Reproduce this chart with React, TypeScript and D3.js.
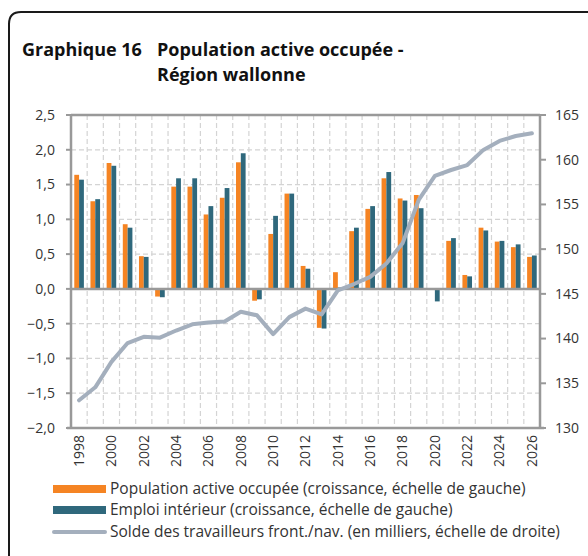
import React from "react";
import * as d3 from "d3";

const years = d3.range(1998, 2027).map(String);
const popActive = [1.64, 1.26, 1.81, 0.93, 0.47, -0.11, 1.47, 1.47, 1.07, 1.31, 1.82, -0.17, 0.79, 1.37, 0.33, -0.56, 0.24, 0.83, 1.15, 1.59, 1.30, 1.35, 0.0, 0.69, 0.20, 0.88, 0.68, 0.60, 0.46];
const emploi = [1.57, 1.29, 1.77, 0.88, 0.46, -0.12, 1.59, 1.59, 1.19, 1.45, 1.95, -0.15, 1.05, 1.37, 0.29, -0.57, 0.02, 0.88, 1.19, 1.68, 1.27, 1.16, -0.18, 0.73, 0.18, 0.84, 0.69, 0.64, 0.48];
const solde = [133.1, 134.55, 137.4, 139.5, 140.2, 140.1, 140.9, 141.6, 141.8, 141.9, 143.0, 142.6, 140.5, 142.4, 143.35, 142.7, 145.4, 146.1, 146.9, 148.4, 150.65, 155.5, 158.2, 158.85, 159.4, 161.1, 162.1, 162.65, 162.95];
const leftTicks = [2.5, 2.0, 1.5, 1.0, 0.5, 0.0, -0.5, -1.0, -1.5, -2.0];
const rightTicks = [165, 160, 155, 150, 145, 140, 135, 130];
const yearLabels = years.filter((_, i) => i % 2 === 0);
const legendItems = [
  "Population active occupée (croissance, échelle de gauche)",
  "Emploi intérieur (croissance, échelle de gauche)",
  "Solde des travailleurs front./nav. (en milliers, échelle de droite)",
];

const ORANGE = "#f58423";
const TEAL = "#2f687c";
const LINE = "#a4afbd";
const AXIS = "#999999";
const GRID = "#d4d4d4";
const TXT = "#333333";
const FONT = "'Open Sans', sans-serif";

export default function App() {
  const W = 588, H = 556;
  const left = 71, right = 540, top = 115, bottom = 428;
  const x = d3.scaleBand<string>().domain(years).range([left, right]).padding(0);
  const bw = x.bandwidth();
  const sub = d3.scaleBand<string>().domain(["pop", "emp"]).range([bw / 2 - 4.8, bw / 2 + 4.8]).padding(0);
  const yL = d3.scaleLinear().domain([-2, 2.5]).range([bottom, top]);
  const yR = d3.scaleLinear().domain([130, 165]).range([bottom, top]);
  const fmt = (v: number) => d3.format(".1f")(v).replace(".", ",");
  const line = d3.line<number>().x((_, i) => (x(years[i]) as number) + bw / 2).y((d) => yR(d));

  const bar = (v: number, key: string, i: number, color: string) => {
    const x0 = (x(years[i]) as number) + (sub(key) as number);
    const y0 = yL(Math.max(0, v));
    const h = Math.abs(yL(v) - yL(0));
    if (h < 0.01) return null;
    return <rect key={key + i} x={x0} y={y0} width={sub.bandwidth()} height={h} fill={color} />;
  };

  return (
    <svg width={W} height={H} style={{ position: "absolute", left: 0, top: 0, background: "#fff" }}>
      {/* frame */}
      <path d={`M9,${H} L9,24 Q9,12 21,12 L${W},12`} fill="none" stroke="#1a1a1a" strokeWidth={2} />
      {/* title */}
      <g fontFamily={FONT} fontWeight="bold" fontSize={18} fill="#111">
        <text x={22} y={56}>Graphique 16</text>
        <text x={157} y={56}>Population active occupée -</text>
        <text x={157} y={81}>Région wallonne</text>
      </g>
      {/* gridlines */}
      <g stroke={GRID} strokeWidth={1.2} strokeDasharray="5,3">
        {years.slice(1).map((yr) => (
          <line key={yr} x1={x(yr)} x2={x(yr)} y1={top} y2={bottom} />
        ))}
        {leftTicks.filter((t) => t !== 0 && t !== 2.5 && t !== -2).map((t) => (
          <line key={t} x1={left} x2={right} y1={yL(t)} y2={yL(t)} />
        ))}
      </g>
      {/* bars */}
      <g>
        {popActive.map((v, i) => bar(v, "pop", i, ORANGE))}
        {emploi.map((v, i) => bar(v, "emp", i, TEAL))}
      </g>
      {/* zero line */}
      <line x1={left} x2={right} y1={yL(0)} y2={yL(0)} stroke={AXIS} strokeWidth={2.5} />
      {/* line series */}
      <path d={line(solde) as string} fill="none" stroke={LINE} strokeWidth={4} strokeLinejoin="round" strokeLinecap="round" />
      {/* axes frame */}
      <g stroke={AXIS} strokeWidth={2.5} fill="none">
        <line x1={left} x2={right} y1={top} y2={top} />
        <line x1={left - 4} x2={right + 4} y1={bottom} y2={bottom} />
        <line x1={left} x2={left} y1={top - 1} y2={bottom} />
        <line x1={right} x2={right} y1={top - 1} y2={bottom} />
      </g>
      {/* ticks */}
      <g fontFamily={FONT} fontSize={14} fill={TXT}>
        {leftTicks.map((t) => (
          <g key={t}>
            <line x1={left - 5} x2={left} y1={yL(t)} y2={yL(t)} stroke={AXIS} strokeWidth={2} />
            <text x={55} y={yL(t)} dy="0.35em" textAnchor="end">{fmt(t)}</text>
          </g>
        ))}
        {rightTicks.map((t) => (
          <g key={t}>
            <line x1={right} x2={right + 6} y1={yR(t)} y2={yR(t)} stroke={AXIS} strokeWidth={2} />
            <text x={555} y={yR(t)} dy="0.35em" textAnchor="start">{t}</text>
          </g>
        ))}
        {yearLabels.map((yr) => {
          const cx = (x(yr) as number) + bw / 2;
          return (
            <text key={yr} transform={`translate(${cx},435) rotate(-90)`} dy="0.35em" textAnchor="end">{yr}</text>
          );
        })}
      </g>
      {/* legend */}
      <g fontFamily={FONT} fontSize={15.5} fill={TXT}>
        <rect x={53} y={485} width={53} height={8} fill={ORANGE} />
        <text x={110} y={489} dy="0.35em">{legendItems[0]}</text>
        <rect x={53} y={506} width={53} height={8} fill={TEAL} />
        <text x={110} y={510} dy="0.35em">{legendItems[1]}</text>
        <line x1={54} x2={105} y1={532} y2={532} stroke={LINE} strokeWidth={4} strokeLinecap="round" />
        <text x={110} y={532} dy="0.35em">{legendItems[2]}</text>
      </g>
    </svg>
  );
}
